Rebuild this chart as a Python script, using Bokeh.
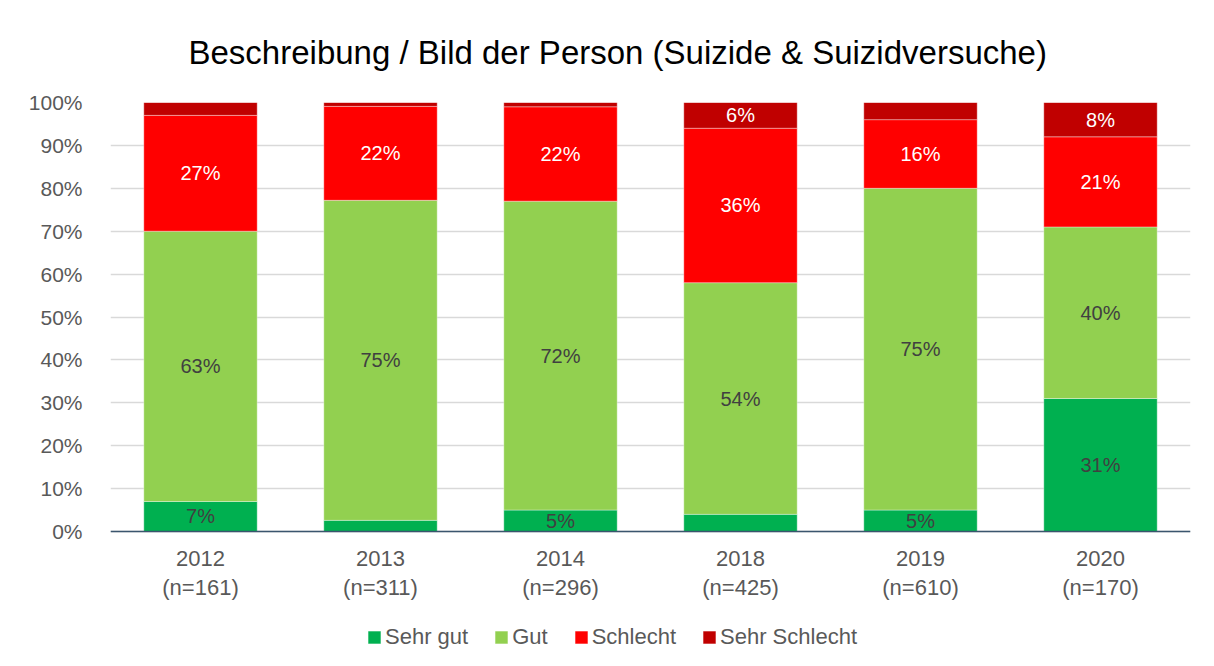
from bokeh.plotting import figure
from bokeh.models import (ColumnDataSource, FixedTicker, NumeralTickFormatter, LabelSet,
                          Legend, LegendItem, Range1d, LinearAxis)
from bokeh.core.properties import value
from bokeh.embed import file_html
from bokeh.resources import INLINE

years = ["2012", "2013", "2014", "2018", "2019", "2020"]
n_values = [161, 311, 296, 425, 610, 170]
series_names = ["Sehr gut", "Gut", "Schlecht", "Sehr Schlecht"]
sehr_gut = [7.0, 2.6, 5.0, 4.0, 5.0, 31.0]
gut = [63.0, 74.6, 72.0, 54.0, 75.0, 40.0]
schlecht = [27.0, 21.9, 22.0, 36.0, 16.0, 21.0]
sehr_schlecht = [3.0, 0.9, 1.0, 6.0, 4.0, 8.0]
colors = ["#00B050", "#92D050", "#FF0000", "#C00000"]
label_colors = ["#404040", "#404040", "#FFFFFF", "#FFFFFF"]
FONT = "Liberation Sans"

xs = list(range(len(years)))
data = {"x": xs}
for name, vals in zip(series_names, [sehr_gut, gut, schlecht, sehr_schlecht]):
    data[name] = [v / 100.0 for v in vals]
source = ColumnDataSource(data)

# frame extends below the 0% line to hold axis labels and legend
p = figure(frame_width=1080, frame_height=557, output_backend="svg", toolbar_location=None,
           x_range=Range1d(-0.5, 5.5), y_range=Range1d(-128 / 429, 1.0),
           x_axis_location=None,
           min_border_left=110, min_border_right=16, min_border_top=101, min_border_bottom=0)
p.outline_line_color = None
p.background_fill_color = "white"
p.border_fill_color = "white"

p.title.text = "Beschreibung / Bild der Person (Suizide & Suizidversuche)"
p.title.text_font = FONT
p.title.text_font_size = "33px"
p.title.text_font_style = "normal"
p.title.text_color = "#000000"
p.title.align = "left"
p.title.offset = 78
p.title.standoff = 63

renderers = p.vbar_stack(series_names, x="x", width=0.63, color=colors, source=source,
                         line_color="white", line_width=0.6, line_alpha=0.6)

# labels
for i, name in enumerate(series_names):
    lx, ly, lt = [], [], []
    for j in xs:
        bottom = sum(data[series_names[k]][j] for k in range(i))
        v = data[name][j]
        if round(v * 100) >= 5:
            lx.append(j)
            ly.append(bottom + v / 2)
            lt.append(f"{round(v * 100):.0f}%")
    ls = LabelSet(x="x", y="y", text="t", source=ColumnDataSource(dict(x=lx, y=ly, t=lt)),
                  text_align="center", text_baseline="middle", text_font=value(FONT),
                  text_font_size=value("20px"), text_color=value(label_colors[i]))
    p.add_layout(ls)

# x axes fixed at the 0% line
def make_x(labels, standoff, line_color):
    ax = LinearAxis(fixed_location=0)
    ax.ticker = FixedTicker(ticks=xs)
    ax.major_label_overrides = labels
    ax.major_label_text_font = FONT
    ax.major_label_text_font_size = "22px"
    ax.major_label_text_color = "#595959"
    ax.major_tick_line_color = None
    ax.major_tick_out = 0
    ax.major_tick_in = 0
    ax.minor_tick_line_color = None
    ax.minor_tick_out = 0
    ax.axis_line_color = line_color
    ax.axis_line_width = 1.5
    ax.major_label_standoff = standoff
    return ax

p.add_layout(make_x({j: f"(n={n})" for j, n in enumerate(n_values)}, 43, None), "below")
p.add_layout(make_x({j: y for j, y in enumerate(years)}, 19, "#3B556E"), "below")

p.yaxis.ticker = FixedTicker(ticks=[i / 10 for i in range(11)])
p.yaxis.formatter = NumeralTickFormatter(format="0%")
p.yaxis.major_label_text_font = FONT
p.yaxis.major_label_text_font_size = "21px"
p.yaxis.major_label_text_color = "#595959"
p.yaxis.major_tick_line_color = None
p.yaxis.minor_tick_line_color = None
p.yaxis.axis_line_color = None
p.yaxis.major_label_standoff = 22

p.xgrid.grid_line_color = None
p.ygrid.grid_line_color = "#D9D9D9"
p.ygrid.grid_line_width = 1.5

legend = Legend(items=[LegendItem(label=n, renderers=[r]) for n, r in zip(series_names, renderers)],
                orientation="horizontal", location=(256, 9),
                label_text_font=FONT, label_text_font_size="22px", label_text_color="#595959",
                glyph_width=16, glyph_height=16, spacing=25, label_standoff=3,
                border_line_color=None, background_fill_alpha=0, margin=0, padding=0)
p.add_layout(legend)

open("out.html", "w").write(file_html(p, INLINE))
